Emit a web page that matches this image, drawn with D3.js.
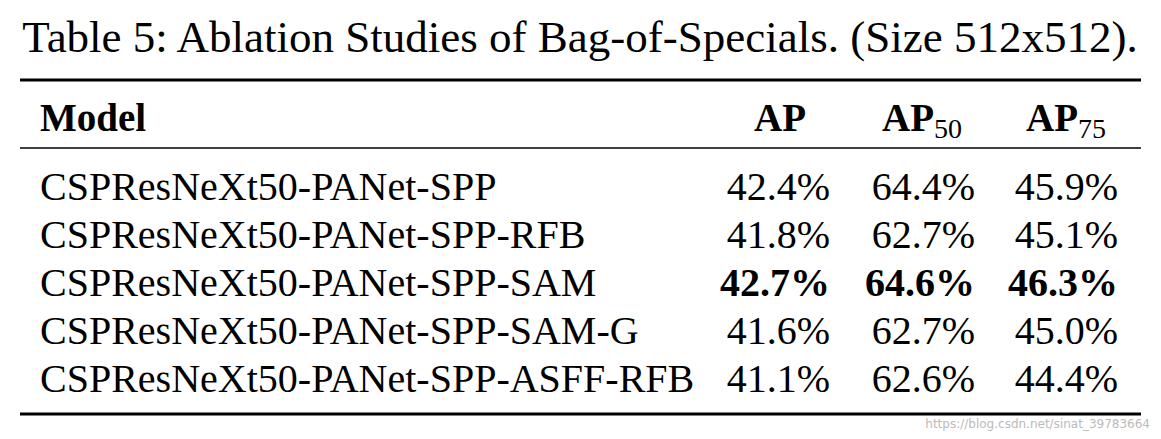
<!DOCTYPE html>
<html><head><meta charset="utf-8">
<script src="https://cdn.jsdelivr.net/npm/d3@7"></script>
<style>body{margin:0;background:#fff}</style>
</head><body><svg id="root" width="1161" height="439"></svg>
<script>
const models = ["CSPResNeXt50-PANet-SPP","CSPResNeXt50-PANet-SPP-RFB","CSPResNeXt50-PANet-SPP-SAM","CSPResNeXt50-PANet-SPP-SAM-G","CSPResNeXt50-PANet-SPP-ASFF-RFB"];
const ap = [42.4, 41.8, 42.7, 41.6, 41.1];
const ap50 = [64.4, 62.7, 64.6, 62.7, 62.6];
const ap75 = [45.9, 45.1, 46.3, 45.0, 44.4];
const best = 2;

const svg = d3.select("#root");
const font = "'Liberation Serif', 'DejaVu Serif', serif";
const y = d3.scaleBand().domain(d3.range(models.length)).range([165, 405]);
const colRight = [830, 975, 1118];

svg.append("text").attr("x", 580).attr("y", 52).attr("text-anchor", "middle")
    .attr("font-family", font).attr("font-size", 45).text("Table 5: Ablation Studies of Bag-of-Specials. (Size 512x512).");

svg.append("line").attr("x1", 20).attr("x2", 1141).attr("y1", 80).attr("y2", 80).attr("stroke", "#000").attr("stroke-width", 3);
svg.append("line").attr("x1", 20).attr("x2", 1141).attr("y1", 148).attr("y2", 148).attr("stroke", "#000").attr("stroke-width", 1.6);
svg.append("line").attr("x1", 20).attr("x2", 1141).attr("y1", 414).attr("y2", 414).attr("stroke", "#000").attr("stroke-width", 3);

// header
const hdr = svg.append("g").attr("font-family", font).attr("font-size", 39).attr("font-weight", "bold");
hdr.append("text").attr("x", 40).attr("y", 131).text("Model");
hdr.append("text").attr("x", 780).attr("y", 131).attr("text-anchor", "middle").text("AP");
[["50", 922], ["75", 1066]].forEach(function (h) {
    const t = hdr.append("text").attr("x", h[1]).attr("y", 131).attr("text-anchor", "middle");
    t.append("tspan").text("AP");
    t.append("tspan").attr("font-weight", "normal").attr("font-size", 28).attr("dy", 7).text(h[0]);
});

const rows = svg.append("g").attr("font-family", font).attr("font-size", 40)
    .selectAll("g").data(models).enter().append("g")
    .attr("transform", function (d, i) { return "translate(0," + (y(i) + y.bandwidth() * 0.72) + ")"; })
    .attr("font-weight", function (d, i) { return i === best ? "bold" : "normal"; });
rows.append("text").attr("x", 40).attr("font-weight", "normal").text(function (d) { return d; });
[ap, ap50, ap75].forEach(function (s, c) {
    rows.append("text").attr("x", colRight[c]).attr("text-anchor", "end")
        .text(function (d, i) { return s[i].toFixed(1) + "%"; });
});

svg.append("text").attr("x", 1150).attr("y", 428).attr("text-anchor", "end")
    .attr("font-family", "'DejaVu Sans', sans-serif").attr("font-size", 12).attr("fill", "#bbb")
    .text("https://blog.csdn.net/sinat_39783664");
</script></body></html>
